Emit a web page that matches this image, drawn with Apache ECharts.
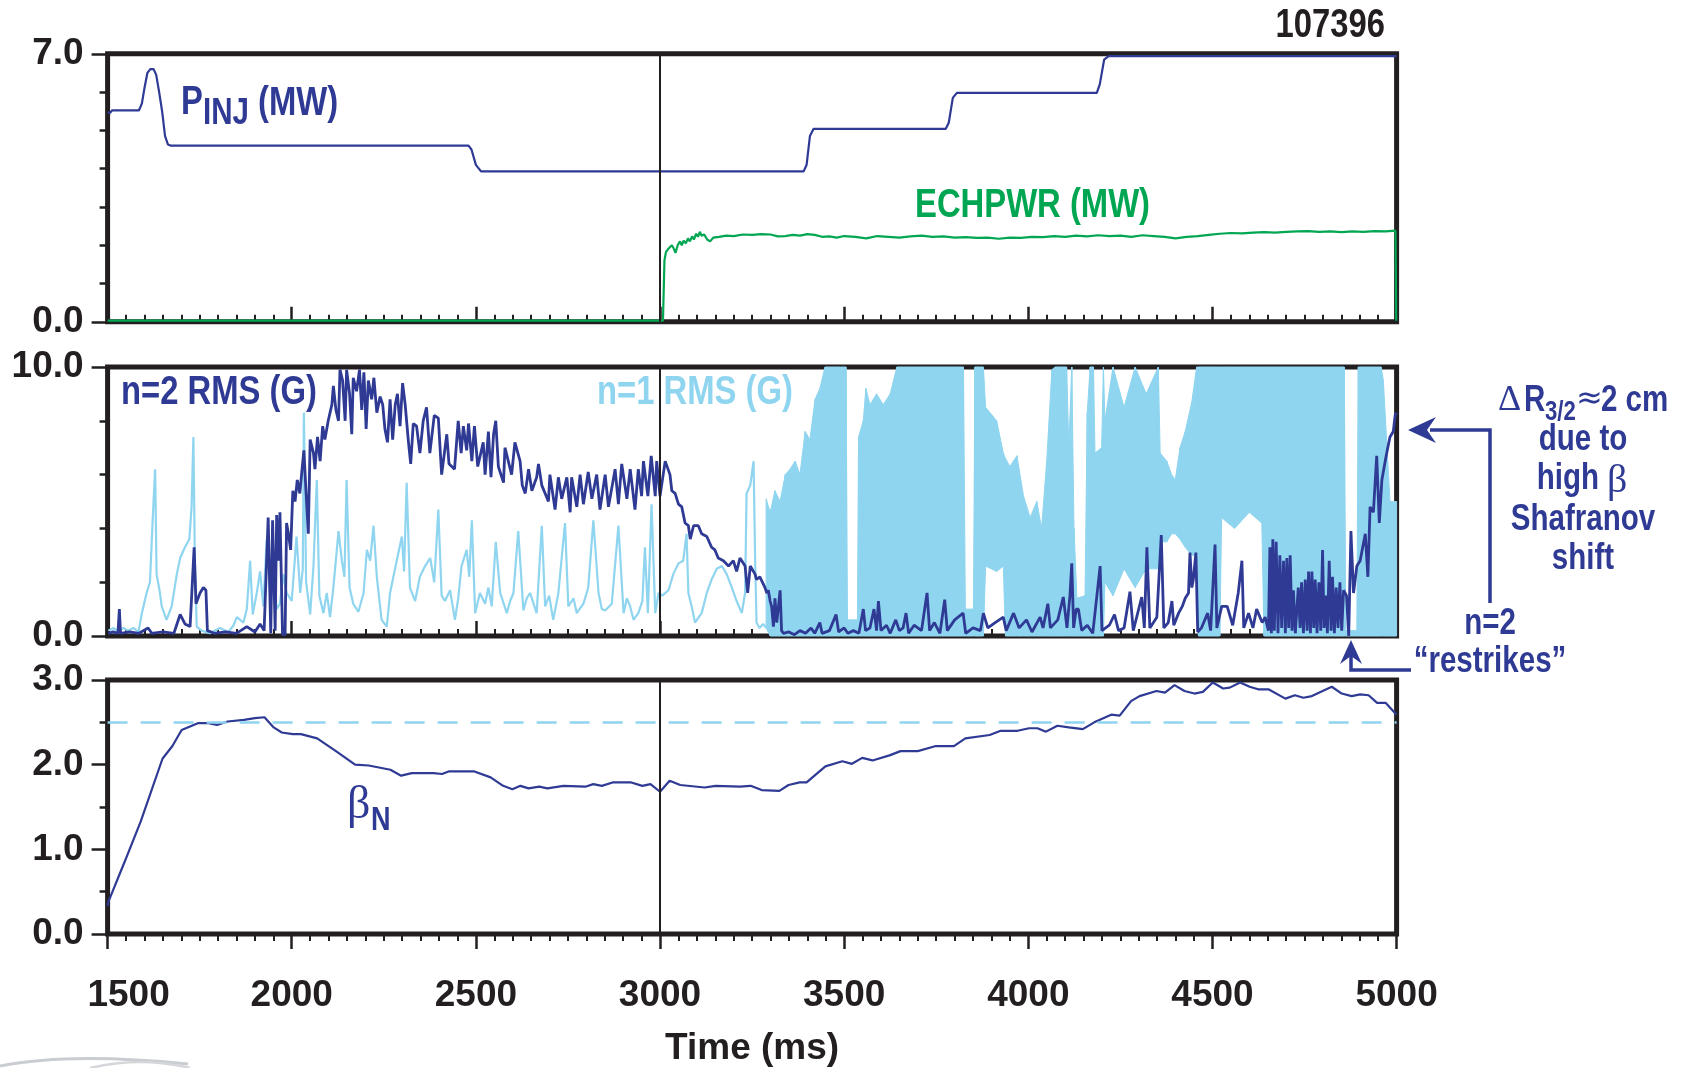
<!DOCTYPE html>
<html>
<head>
<meta charset="utf-8">
<script src="https://cdn.jsdelivr.net/npm/echarts@6/dist/echarts.min.js"></script>
<style>
  html, body { margin: 0; padding: 0; background: #fff; }
  #main { width: 1687px; height: 1068px; }
</style>
</head>
<body>
<div id="main"></div>
<script>
// shot 107396: beam power, ECH power, n=1 / n=2 RMS and beta_N vs time

const timeTicks = [1500, 2000, 2500, 3000, 3500, 4000, 4500, 5000]
const shotLabel = '107396'

// P_INJ (MW)
const pinj = [
  [1500, 5.48], [1506, 5.45], [1512, 5.52], [1585, 5.52], [1593, 5.7], [1600, 6.1], [1608, 6.5],
  [1616, 6.6], [1625, 6.6], [1632, 6.45], [1640, 6.0], [1648, 5.5], [1656, 4.85], [1664, 4.63],
  [1672, 4.6], [2480, 4.6], [2488, 4.5], [2500, 4.1], [2514, 3.93], [3390, 3.93], [3398, 4.1],
  [3407, 4.85], [3417, 5.04], [3776, 5.04], [3784, 5.2], [3795, 5.85], [3806, 5.98], [4186, 5.98],
  [4194, 6.2], [4206, 6.85], [4218, 6.94], [5000, 6.94]
]

// ECHPWR (MW)
const echpwr = [
  [1500, 0.03], [3008, 0.03], [3012, 1.6], [3016, 1.82], [3022, 1.9], [3027, 1.85], [3032, 2.0],
  [3037, 1.92], [3042, 1.8], [3048, 2.0], [3054, 2.1], [3059, 2.0], [3064, 2.12], [3070, 2.05],
  [3076, 2.18], [3081, 2.1], [3087, 2.23], [3092, 2.15], [3098, 2.3], [3103, 2.22], [3108, 2.35],
  [3113, 2.25], [3120, 2.28], [3128, 2.15], [3136, 2.1], [3145, 2.2], [3160, 2.22], [3180, 2.25],
  [3200, 2.24], [3225, 2.28], [3250, 2.27], [3275, 2.29], [3300, 2.28], [3320, 2.23], [3340, 2.24],
  [3360, 2.27], [3380, 2.25], [3400, 2.29], [3420, 2.27], [3440, 2.22], [3460, 2.23], [3480, 2.2],
  [3500, 2.24], [3530, 2.22], [3560, 2.18], [3590, 2.24], [3620, 2.22], [3650, 2.2], [3680, 2.23],
  [3710, 2.25], [3740, 2.22], [3770, 2.23], [3800, 2.2], [3830, 2.21], [3860, 2.19], [3890, 2.2],
  [3920, 2.17], [3950, 2.2], [3980, 2.19], [4010, 2.22], [4040, 2.21], [4070, 2.24], [4100, 2.22],
  [4130, 2.25], [4160, 2.23], [4190, 2.26], [4220, 2.24], [4250, 2.25], [4280, 2.22], [4310, 2.26],
  [4340, 2.24], [4370, 2.22], [4400, 2.18], [4430, 2.22], [4460, 2.24], [4490, 2.27], [4520, 2.3],
  [4550, 2.32], [4580, 2.31], [4610, 2.33], [4640, 2.34], [4670, 2.33], [4700, 2.35], [4730, 2.36],
  [4760, 2.37], [4790, 2.35], [4820, 2.36], [4850, 2.34], [4880, 2.36], [4910, 2.35], [4940, 2.37],
  [4970, 2.36], [4997, 2.38], [4999, 0.03], [5000, 0.03]
]

// n=1 RMS (G), sparse part before the mode locks in
const n1Trace = [
  [1502, 0.2], [1516, 0.3], [1529, 0.15], [1543, 0.3], [1556, 0.2], [1570, 0.3], [1584, 0.15],
  [1593, 0.85], [1606, 1.6], [1615, 2.0], [1622, 4.2], [1629, 6.2], [1633, 2.3], [1641, 1.7],
  [1647, 1.1], [1660, 0.6], [1674, 1.1], [1688, 2.3], [1697, 2.9], [1710, 3.3], [1722, 3.6],
  [1728, 4.8], [1733, 7.4], [1737, 2.8], [1742, 0.35], [1755, 0.2], [1778, 0.1], [1805, 0.3],
  [1828, 0.15], [1842, 0.4], [1851, 0.7], [1869, 0.5], [1878, 1.0], [1887, 2.8], [1894, 0.8],
  [1905, 1.6], [1914, 2.4], [1923, 1.1], [1932, 3.6], [1941, 1.6], [1950, 2.6], [1959, 1.0],
  [1968, 1.2], [1977, 2.3], [1986, 1.6], [2000, 1.3], [2013, 3.7], [2023, 1.6], [2030, 2.5],
  [2033, 8.3], [2039, 2.0], [2050, 0.8], [2059, 2.6], [2068, 5.8], [2075, 1.5], [2086, 0.85],
  [2095, 1.6], [2104, 0.7], [2113, 1.8], [2127, 3.9], [2136, 2.8], [2143, 2.2], [2149, 5.8],
  [2157, 1.8], [2167, 1.2], [2181, 0.9], [2195, 1.6], [2204, 3.2], [2213, 2.8], [2222, 4.1],
  [2231, 2.2], [2244, 0.6], [2258, 0.35], [2267, 1.6], [2276, 2.2], [2285, 2.8], [2299, 3.7],
  [2305, 2.4], [2312, 5.7], [2321, 1.8], [2335, 1.3], [2348, 2.2], [2362, 2.6], [2376, 2.9],
  [2387, 2.0], [2398, 4.7], [2407, 1.5], [2416, 1.3], [2430, 1.7], [2443, 0.6], [2452, 1.4],
  [2461, 2.6], [2475, 3.2], [2482, 2.2], [2489, 4.3], [2498, 0.85], [2511, 1.6], [2525, 1.2],
  [2534, 1.8], [2543, 1.1], [2554, 3.5], [2566, 1.6], [2584, 0.85], [2593, 1.3], [2602, 1.6],
  [2615, 3.9], [2629, 0.95], [2638, 1.4], [2647, 1.6], [2665, 0.85], [2679, 4.1], [2688, 1.1],
  [2699, 1.5], [2710, 0.6], [2724, 1.6], [2742, 4.2], [2751, 1.1], [2765, 1.4], [2774, 0.85],
  [2792, 1.2], [2805, 1.8], [2819, 4.3], [2833, 1.6], [2842, 1.0], [2851, 0.95], [2869, 1.2],
  [2887, 4.1], [2901, 0.85], [2910, 1.4], [2919, 1.1], [2928, 0.6], [2941, 0.85], [2952, 1.3],
  [2959, 3.3], [2967, 0.85], [2977, 4.9], [2987, 0.85], [2996, 1.6], [3006, 1.5], [3023, 1.7],
  [3036, 2.3], [3050, 2.7], [3063, 2.8], [3072, 3.8], [3077, 1.6], [3086, 1.1], [3095, 0.5],
  [3113, 0.85], [3127, 1.6], [3140, 2.1], [3154, 2.5], [3168, 2.6], [3181, 2.3], [3195, 1.8],
  [3208, 1.3], [3222, 0.85], [3231, 1.6], [3235, 5.3], [3245, 5.6], [3254, 6.5], [3258, 3.0],
  [3262, 0.5], [3270, 0.3], [3280, 0.45], [3288, 0.3]
]

// n=1 RMS (G) after 3290 ms: the trace swings so fast it reads as a band, lower / upper edge
const n1BandTime = [
  3288, 3299, 3312, 3326, 3340, 3353, 3367, 3380, 3394, 3407, 3421, 3434, 3448, 3470, 3490, 3505,
  3509, 3536, 3539, 3552, 3559, 3570, 3588, 3606, 3625, 3643, 3700, 3760, 3824, 3829, 3851, 3855,
  3878, 3884, 3914, 3932, 3938, 3950, 3969, 3987, 4005, 4023, 4036, 4050, 4064, 4073, 4104, 4110,
  4118, 4124, 4132, 4154, 4160, 4168, 4177, 4181, 4199, 4204, 4208, 4230, 4260, 4290, 4320, 4353,
  4358, 4376, 4389, 4399, 4412, 4426, 4444, 4457, 4462, 4520, 4525, 4560, 4600, 4634, 4640, 4700,
  4760, 4858, 4862, 4892, 4896, 4958, 4964, 4982, 5000
]
const n1BandLow = [
  0.3, 0, 0, 0, 0, 0, 0, 0, 0, 0, 0, 0, 0, 0, 0, 0,
  0, 0, 0, 0, 0, 0, 0, 0, 0, 0, 0, 0, 0, 0, 0, 0,
  0, 2.6, 2.4, 2.6, 0, 0, 0, 0, 0, 0, 0, 0, 0, 0, 0, 0,
  0, 0, 0, 0, 0, 0, 0, 0, 0, 0, 2.0, 1.5, 2.5, 1.8, 2.5, 2.5,
  3.5, 3.5, 3.8, 3.8, 3.6, 3.3, 3.0, 3.0, 0, 0, 4.4, 4.0, 4.6, 4.2, 0, 0,
  0, 0, 0, 0, 0, 0, 0, 0, 0
]
const n1BandHigh = [
  5.1, 4.6, 5.4, 5.0, 6.0, 6.2, 6.5, 6.0, 7.6, 7.3, 8.8, 9.2, 10, 10, 10, 10,
  0.6, 0.6, 7.4, 8.0, 9.2, 8.6, 9.0, 8.6, 9.0, 10, 10, 10, 10, 1.0, 1.0, 10,
  10, 8.5, 8.0, 6.8, 6.6, 6.3, 6.7, 5.2, 4.4, 5.0, 4.0, 6.5, 9.9, 10, 10, 7.0,
  10, 4.0, 1.4, 1.5, 8.3, 10, 10, 6.8, 7.0, 10, 8.0, 10, 8.5, 10, 9.0, 10,
  6.8, 6.5, 6.0, 5.8, 7.0, 7.6, 8.7, 10, 10, 10, 10, 10, 10, 10, 10, 10,
  10, 10, 0.2, 0.2, 10, 10, 9.5, 5.0, 5.0
]

// n=2 RMS (G)
const n2Trace = [
  [1502, 0.1], [1515, 0.15], [1528, 0.1], [1532, 1.0], [1535, 0.1], [1560, 0.15], [1585, 0.1],
  [1610, 0.3], [1620, 0.1], [1650, 0.15], [1680, 0.1], [1697, 0.8], [1710, 0.45], [1724, 0.35],
  [1735, 3.3], [1740, 1.2], [1751, 1.6], [1760, 1.8], [1767, 1.7], [1771, 0.2], [1790, 0.1],
  [1820, 0.15], [1850, 0.1], [1878, 0.35], [1900, 0.15], [1914, 0.45], [1925, 0.2], [1936, 4.4],
  [1943, 0.1], [1948, 4.3], [1955, 0.2], [1959, 4.5], [1964, 2.8], [1968, 4.6], [1975, 0.05],
  [1982, 0.05], [1986, 4.2], [1991, 3.8], [1997, 3.2], [2003, 5.4], [2009, 5.0], [2015, 5.8],
  [2022, 5.3], [2028, 6.2], [2033, 6.9], [2039, 5.3], [2045, 3.8], [2050, 7.3], [2059, 6.8],
  [2063, 6.2], [2070, 7.4], [2077, 6.5], [2084, 7.8], [2090, 7.3], [2099, 8.0], [2109, 8.6],
  [2113, 9.3], [2120, 8.4], [2127, 8.0], [2131, 9.9], [2138, 9.5], [2145, 8.0], [2149, 9.9],
  [2157, 9.0], [2163, 7.5], [2167, 9.6], [2176, 9.1], [2184, 9.9], [2190, 8.4], [2196, 9.8],
  [2202, 7.7], [2208, 9.5], [2217, 8.8], [2223, 9.6], [2231, 8.3], [2240, 8.9], [2247, 8.6],
  [2253, 7.7], [2260, 7.2], [2267, 8.8], [2274, 7.3], [2281, 8.6], [2287, 9.0], [2294, 7.8],
  [2301, 9.4], [2308, 8.6], [2317, 7.2], [2323, 6.4], [2330, 7.9], [2339, 7.8], [2348, 6.8],
  [2357, 8.0], [2366, 8.5], [2375, 6.8], [2387, 8.2], [2398, 8.1], [2407, 6.0], [2421, 7.5],
  [2427, 6.4], [2442, 6.2], [2452, 8.0], [2460, 6.8], [2466, 7.8], [2475, 6.9], [2480, 7.9],
  [2489, 6.5], [2496, 7.8], [2505, 6.3], [2520, 7.2], [2525, 6.0], [2534, 7.6], [2541, 5.9],
  [2548, 7.5], [2554, 8.0], [2561, 6.3], [2575, 5.7], [2579, 7.0], [2597, 6.0], [2606, 7.2],
  [2620, 6.5], [2626, 5.6], [2634, 5.3], [2643, 6.2], [2652, 5.4], [2665, 5.9], [2670, 6.4],
  [2679, 5.6], [2697, 5.0], [2701, 6.0], [2715, 4.7], [2724, 5.9], [2733, 5.1], [2747, 5.9],
  [2756, 4.6], [2760, 5.9], [2774, 4.8], [2783, 6.0], [2792, 4.9], [2805, 6.1], [2815, 5.1],
  [2828, 6.0], [2837, 4.7], [2851, 6.0], [2860, 4.8], [2878, 6.2], [2887, 4.9], [2896, 6.4],
  [2910, 5.1], [2919, 6.2], [2932, 4.7], [2941, 6.2], [2950, 5.2], [2955, 6.5], [2967, 5.2],
  [2976, 6.7], [2987, 5.2], [2991, 6.5], [3000, 5.2], [3014, 6.5], [3027, 6.0], [3032, 5.4],
  [3041, 5.3], [3050, 4.9], [3059, 4.8], [3068, 4.2], [3077, 4.1], [3082, 3.6], [3091, 4.1],
  [3104, 4.1], [3113, 3.8], [3127, 3.7], [3140, 3.3], [3149, 3.2], [3158, 2.9], [3172, 2.8],
  [3186, 2.6], [3199, 2.8], [3208, 2.4], [3217, 2.9], [3231, 2.6], [3238, 1.6], [3245, 2.6],
  [3258, 2.3], [3262, 2.1], [3271, 2.2], [3285, 1.8], [3290, 1.6], [3294, 1.7], [3299, 1.3],
  [3303, 1.1], [3308, 0.35], [3312, 1.4], [3317, 0.5], [3326, 1.7], [3330, 0.2], [3335, 0.1],
  [3350, 0.15], [3365, 0.05], [3380, 0.2], [3395, 0.1], [3410, 0.3], [3420, 0.1], [3434, 0.5],
  [3440, 0.1], [3460, 0.2], [3478, 0.8], [3485, 0.15], [3500, 0.3], [3510, 0.1], [3525, 0.2],
  [3540, 0.1], [3552, 1.0], [3558, 0.2], [3570, 0.3], [3581, 1.0], [3588, 0.2], [3593, 1.3],
  [3600, 0.2], [3615, 0.4], [3625, 0.1], [3640, 0.6], [3650, 0.2], [3660, 0.3], [3668, 0.85],
  [3675, 0.1], [3690, 0.4], [3710, 0.2], [3725, 1.6], [3732, 0.2], [3745, 0.5], [3760, 0.1],
  [3773, 1.35], [3780, 0.2], [3800, 0.6], [3823, 0.85], [3830, 0.1], [3850, 0.3], [3870, 0.2],
  [3878, 0.85], [3890, 0.3], [3910, 0.5], [3932, 0.7], [3940, 0.2], [3960, 0.85], [3975, 0.3],
  [3995, 0.6], [4010, 0.15], [4032, 0.7], [4040, 0.3], [4053, 1.2], [4060, 0.3], [4080, 0.6],
  [4095, 1.45], [4105, 0.3], [4113, 1.5], [4118, 2.7], [4123, 0.3], [4130, 1.0], [4136, 1.0],
  [4145, 0.2], [4160, 0.4], [4175, 0.1], [4195, 2.6], [4200, 0.2], [4220, 0.4], [4234, 0.8],
  [4245, 0.2], [4260, 0.3], [4276, 1.65], [4285, 0.2], [4308, 1.45], [4315, 0.3], [4322, 3.3],
  [4330, 0.3], [4349, 0.7], [4361, 3.75], [4368, 0.3], [4380, 0.5], [4390, 1.3], [4395, 0.4],
  [4408, 0.85], [4418, 1.1], [4426, 1.4], [4435, 1.6], [4439, 3.1], [4444, 1.8], [4448, 2.1],
  [4455, 3.1], [4460, 0.15], [4470, 0.3], [4487, 0.85], [4495, 0.2], [4507, 3.4], [4512, 0.3],
  [4525, 1.1], [4540, 1.1], [4555, 0.4], [4570, 1.6], [4580, 2.8], [4585, 0.3], [4598, 0.85],
  [4610, 0.3], [4620, 1.0], [4635, 0.5], [4643, 0.7], [4652, 0.2], [4656, 3.3], [4660, 0.1],
  [4664, 3.6], [4668, 0.2], [4673, 3.5], [4678, 0.1], [4683, 3.0], [4688, 0.3], [4693, 2.8],
  [4698, 0.1], [4702, 2.9], [4707, 0.3], [4711, 3.0], [4716, 0.2], [4720, 1.7], [4725, 0.1],
  [4733, 1.8], [4738, 0.3], [4742, 2.0], [4747, 0.1], [4752, 2.1], [4757, 0.2], [4761, 2.4],
  [4766, 0.1], [4770, 2.4], [4775, 0.3], [4779, 2.1], [4784, 0.1], [4789, 2.0], [4794, 0.2],
  [4799, 3.2], [4803, 0.3], [4808, 1.5], [4812, 0.1], [4817, 2.8], [4822, 0.2], [4826, 2.2],
  [4831, 0.1], [4836, 1.8], [4841, 0.3], [4846, 2.0], [4851, 0.2], [4856, 1.7], [4860, 1.7],
  [4864, 1.5], [4870, 0.0], [4876, 3.9], [4883, 1.6], [4892, 2.6], [4901, 2.8], [4915, 3.8],
  [4922, 2.2], [4928, 4.8], [4937, 4.6], [4946, 6.7], [4953, 4.2], [4960, 5.8], [4969, 6.5],
  [4976, 7.0], [4982, 7.4], [4991, 7.6], [4996, 8.2], [5000, 8.3]
]

// beta_N
const betaN = [
  [1500, 0.33], [1502, 0.38], [1546, 0.85], [1590, 1.33], [1649, 2.07], [1676, 2.22], [1701, 2.41],
  [1745, 2.49], [1774, 2.49], [1797, 2.47], [1826, 2.51], [1870, 2.53], [1900, 2.55], [1926, 2.56],
  [1951, 2.44], [1973, 2.38], [2003, 2.36], [2025, 2.36], [2069, 2.31], [2120, 2.16], [2172, 2.0],
  [2209, 1.99], [2268, 1.94], [2297, 1.87], [2326, 1.9], [2385, 1.9], [2408, 1.89], [2426, 1.92],
  [2496, 1.92], [2540, 1.85], [2574, 1.75], [2599, 1.71], [2621, 1.75], [2643, 1.72], [2672, 1.74],
  [2694, 1.72], [2738, 1.75], [2797, 1.74], [2819, 1.77], [2842, 1.75], [2871, 1.79], [2922, 1.79],
  [2952, 1.75], [2974, 1.77], [3000, 1.68], [3026, 1.81], [3055, 1.76], [3121, 1.73], [3151, 1.75],
  [3217, 1.74], [3246, 1.75], [3276, 1.7], [3324, 1.69], [3349, 1.76], [3379, 1.79], [3398, 1.79],
  [3449, 1.98], [3495, 2.04], [3521, 2.01], [3549, 2.08], [3577, 2.05], [3623, 2.11], [3653, 2.16],
  [3700, 2.16], [3749, 2.22], [3798, 2.22], [3829, 2.31], [3895, 2.35], [3925, 2.4], [3971, 2.4],
  [4002, 2.43], [4025, 2.43], [4048, 2.39], [4079, 2.46], [4110, 2.44], [4148, 2.42], [4179, 2.5],
  [4225, 2.59], [4248, 2.58], [4279, 2.75], [4302, 2.81], [4348, 2.87], [4371, 2.85], [4397, 2.94],
  [4424, 2.87], [4451, 2.84], [4474, 2.86], [4501, 2.97], [4529, 2.9], [4547, 2.91], [4575, 2.97],
  [4601, 2.92], [4624, 2.89], [4652, 2.89], [4698, 2.78], [4724, 2.82], [4747, 2.79], [4770, 2.81],
  [4824, 2.92], [4851, 2.84], [4878, 2.81], [4901, 2.83], [4924, 2.82], [4947, 2.73], [4970, 2.73],
  [5000, 2.59]
]

const ecrhOnTime = 3000
const betaLimit = 2.5

// panel ranges: [max, labelled step, minor splits]
const panelY = [[7, 7, 7], [10, 10, 5], [3, 1, 2]]

const INK = '#231f20'
const DARK = '#2e3a94'
const LIGHT = '#8fd5f0'
const GREEN = '#00a651'
const SANS = '"Liberation Sans", Arial, sans-serif'
const SERIF = '"Liberation Serif", "DejaVu Serif", serif'
const SQUEEZE = 0.82   // the print uses a condensed face, so sans text is squeezed sideways
const tickFont = { color: INK, fontSize: 37, fontWeight: 'bold', fontFamily: SANS }

const chart = echarts.init(document.getElementById('main'))

const grids = [
  { left: 107.6, top: 53.8, width: 1289, height: 268 },
  { left: 107.6, top: 367, width: 1289, height: 269 },
  { left: 107.6, top: 680, width: 1289, height: 268 }
].map(g => Object.assign(g, { show: true, borderColor: INK, borderWidth: 5 }))

const xAxes = grids.map((g, i) => ({
  gridIndex: i,
  type: 'value',
  min: timeTicks[0],
  max: timeTicks[timeTicks.length - 1],
  interval: timeTicks[1] - timeTicks[0],
  axisLine: { show: false },
  axisTick: { show: true, inside: i < 2, length: 15, lineStyle: { color: INK, width: 2.5 } },
  minorTick: { show: true, splitNumber: 10, length: 7, lineStyle: { color: INK, width: 2 } },
  splitLine: { show: false },
  axisLabel: Object.assign({
    show: i === 2,
    margin: 43,
    // first label sits a little right of its tick, clear of the y labels
    formatter: v => (v === timeTicks[0] ? '{first|' + v + '}' : String(v)),
    rich: { first: Object.assign({ padding: [0, 0, 0, 42] }, tickFont) }
  }, tickFont),
  name: i === 2 ? 'Time (ms)' : '',
  nameLocation: 'middle',
  nameGap: 96,
  nameTextStyle: tickFont
}))

const yAxes = panelY.map(([max, step, minor], i) => ({
  gridIndex: i,
  type: 'value',
  min: 0,
  max: max,
  interval: step,
  axisLine: { show: false },
  axisTick: { show: true, length: 16, lineStyle: { color: INK, width: 2.5 } },
  minorTick: { show: true, splitNumber: minor, length: 8, lineStyle: { color: INK, width: 2.5 } },
  splitLine: { show: false },
  axisLabel: Object.assign({ margin: 24, formatter: v => v.toFixed(1) }, tickFont)
}))

const line = (name, idx, data, color, width, z) => ({
  name,
  type: 'line',
  xAxisIndex: idx,
  yAxisIndex: idx,
  data,
  symbol: 'none',
  z: z || 2,
  lineStyle: { color, width },
  animation: false
})

const timeMark = {
  silent: true,
  symbol: 'none',
  label: { show: false },
  lineStyle: { color: INK, width: 2, type: 'solid' },
  data: [{ xAxis: ecrhOnTime }]
}

// band pieces between consecutive samples: [t0, low0, high0, t1, low1, high1]
const n1BandPieces = n1BandTime.slice(0, -1).map((t, k) => [
  t, n1BandLow[k], n1BandHigh[k], n1BandTime[k + 1], n1BandLow[k + 1], n1BandHigh[k + 1]
])

const series = [
  Object.assign(line('PINJ', 0, pinj, DARK, 2.2, 3), { markLine: timeMark }),
  line('ECHPWR', 0, echpwr, GREEN, 2.2, 3),

  Object.assign(line('n1', 1, n1Trace, LIGHT, 2.2, 2), { markLine: Object.assign({}, timeMark, { z: 6 }) }),
  {
    name: 'n1 band',
    type: 'custom',
    xAxisIndex: 1,
    yAxisIndex: 1,
    z: 2,
    silent: true,
    animation: false,
    data: n1BandPieces,
    encode: { x: [0, 3], y: [1, 2, 4, 5] },
    renderItem: (params, api) => {
      const p0 = api.coord([api.value(0), api.value(1)])
      const p1 = api.coord([api.value(0), api.value(2)])
      const p2 = api.coord([api.value(3), api.value(5)])
      const p3 = api.coord([api.value(3), api.value(4)])
      return {
        type: 'polygon',
        shape: { points: [p0, p1, p2, p3] },
        style: { fill: LIGHT, stroke: LIGHT, lineWidth: 1 }
      }
    }
  },
  line('n2', 1, n2Trace, DARK, 2.8, 4),

  Object.assign(line('betaN', 2, betaN, DARK, 2.2, 3), {
    markLine: {
      silent: true,
      symbol: 'none',
      label: { show: false },
      data: [
        { xAxis: ecrhOnTime, lineStyle: { color: INK, width: 2, type: 'solid' } },
        { yAxis: betaLimit, lineStyle: { color: LIGHT, width: 2.5, type: [20, 13] } }
      ]
    }
  })
]

// annotations
const txt = (text, x, y, size, color, opts) => ({
  type: 'text',
  x, y,
  z: 20,
  scaleX: SQUEEZE,
  silent: true,
  style: Object.assign({
    text,
    fill: color,
    fontSize: size,
    fontWeight: 'bold',
    fontFamily: SANS,
    align: 'left',
    verticalAlign: 'middle'
  }, opts || {})
})
const sym = (text, x, y, size, color, family) => Object.assign(
  txt(text, x, y, size, color, { fontWeight: 'normal', fontFamily: family || SERIF }),
  { scaleX: 1 }
)

const graphic = [
  txt(shotLabel, 1385, 26, 40, INK, { align: 'right' }),
  txt('P', 181, 103, 40, DARK),
  txt('INJ', 203, 114, 36, DARK),
  txt('(MW)', 258, 104, 40, DARK),
  txt('ECHPWR (MW)', 915, 206, 40, GREEN),
  txt('n=2 RMS (G)', 121, 393, 40, DARK),
  txt('n=1 RMS (G)', 597, 393, 40, LIGHT),

  sym('\u0394', 1498, 401, 36, DARK),
  txt('R', 1524, 401, 36, DARK),
  txt('3/2', 1545, 413, 27, DARK),
  sym('\u2248', 1576, 400, 32, DARK, '"DejaVu Sans", sans-serif'),
  txt('2 cm', 1601, 401, 36, DARK),
  txt('due to', 1583, 440, 36, DARK, { align: 'center' }),
  txt('high', 1599, 479, 36, DARK, { align: 'right' }),
  sym('\u03b2', 1607, 481, 40, DARK),
  txt('Shafranov', 1583, 520, 36, DARK, { align: 'center' }),
  txt('shift', 1583, 559, 36, DARK, { align: 'center' }),
  txt('n=2', 1490, 624, 36, DARK, { align: 'center' }),
  txt('\u201crestrikes\u201d', 1490, 662, 36, DARK, { align: 'center' }),

  sym('\u03b2', 347, 806, 46, DARK),
  txt('N', 371, 821, 33, DARK),

  {
    type: 'polyline', z: 20, silent: true,
    shape: { points: [[1490, 603], [1490, 430], [1430, 430]] },
    style: { stroke: DARK, lineWidth: 3.5, fill: null }
  },
  {
    type: 'polygon', z: 20, silent: true,
    shape: { points: [[1408, 430], [1436, 417], [1427, 430], [1436, 443]] },
    style: { fill: DARK }
  },
  {
    type: 'polyline', z: 20, silent: true,
    shape: { points: [[1411, 670], [1351, 670], [1351, 656]] },
    style: { stroke: DARK, lineWidth: 3.5, fill: null }
  },
  {
    type: 'polygon', z: 20, silent: true,
    shape: { points: [[1351, 640], [1362, 664], [1351, 656], [1340, 664]] },
    style: { fill: DARK }
  },
  // grey swoosh of a logo at the bottom-left corner
  {
    type: 'bezierCurve', z: 1, silent: true,
    shape: { x1: 0, y1: 1066, cpx1: 70, cpy1: 1052, x2: 188, y2: 1064 },
    style: { stroke: '#c9ccd1', lineWidth: 3, fill: null }
  },
  {
    type: 'bezierCurve', z: 1, silent: true,
    shape: { x1: 90, y1: 1068, cpx1: 140, cpy1: 1056, x2: 190, y2: 1068 },
    style: { stroke: '#d4d6da', lineWidth: 2.5, fill: null }
  }
]

chart.setOption({
  animation: false,
  backgroundColor: '#fff',
  grid: grids,
  xAxis: xAxes,
  yAxis: yAxes,
  series,
  graphic
})

window.addEventListener('resize', () => chart.resize())
</script>
</body>
</html>
